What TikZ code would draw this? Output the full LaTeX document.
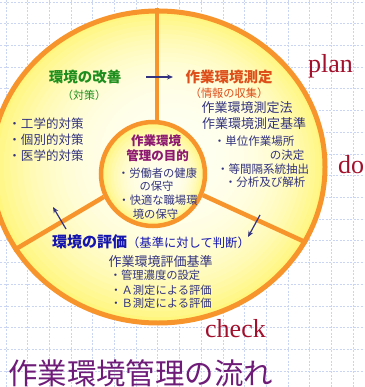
\documentclass[tikz,border=0pt]{standalone}
\usepackage{fontspec}
\setmainfont{Liberation Serif}
\newfontfamily\jp{Noto Sans CJK JP}
\usetikzlibrary{arrows.meta,shapes.geometric}
\definecolor{ringc}{HTML}{F7942C}
\definecolor{gridc}{HTML}{C9D5F2}
\definecolor{greenc}{HTML}{1E8E1E}
\definecolor{redc}{HTML}{DD4E1A}
\definecolor{navyc}{HTML}{33337F}
\definecolor{purc}{HTML}{8C1870}
\definecolor{bluec}{HTML}{1515B0}
\definecolor{crim}{HTML}{A2102C}
\definecolor{titlec}{HTML}{6E1C78}
\definecolor{yin}{HTML}{FFFFF0}
\definecolor{yout}{HTML}{FFF67E}
\begin{document}
\begin{tikzpicture}[x=1pt,y=-1pt,
  gridline/.style={gridc, line width=0.6pt, dash pattern=on 2pt off 1.5pt},
  divider/.style={ringc, line width=4.5pt},
  jt/.style={font=\jp\fontsize{#1}{#1}\selectfont, inner sep=0pt, text=navyc},
  jb/.style={font=\jp\bfseries\fontsize{#1}{#1}\selectfont, inner sep=0pt},
  flow/.style={-{Stealth[length=6pt,width=5pt]}, navyc, line width=1.2pt},
  pdc/.style={font=\fontsize{26}{26}\selectfont, text=crim, anchor=base west, inner sep=0pt}
]
\useasboundingbox (0,0) rectangle (364,387);
\clip (0,0) rectangle (364,387);
\fill[white] (0,0) rectangle (364,387);
\foreach \i in {0,...,16} \draw[gridline] ({5.8+21.7*\i},0) -- ({5.8+21.7*\i},387);
\foreach \j in {0,...,17} \draw[gridline] (0,{2+21.7*\j}) -- (364,{2+21.7*\j});

% wheel background gradient (outer)
\foreach \k in {0,...,29} {
  \pgfmathsetmacro\t{\k/30}
  \pgfmathsetmacro\p{100*(1-(1-\t)^3)}
  \fill[yin!\p!yout] ({158+24*\t},{167-18*\t}) ellipse [x radius={167*(1-\t)*1pt}, y radius={156*(1-\t)*1pt}];
}
\node[ellipse, draw=ringc, line width=5pt, minimum width=334pt, minimum height=312pt,
      inner sep=0pt] (outer) at (158,167) {};
% inner circle gradient
\foreach \k in {0,...,19} {
  \pgfmathsetmacro\t{\k/20}
  \pgfmathsetmacro\p{100*(1-(1-\t)^3)}
  \fill[yin!\p!yout] ({153+12*\t},{174+12*\t}) circle [radius={52*(1-\t)*1pt}];
}
\node[circle, draw=ringc, line width=4.5pt, minimum size=104pt, inner sep=0pt] (inner) at (153,174) {};
\draw[divider] (inner.86) -- (inner.86 |- outer.north);
\draw[divider] (inner.205) -- (outer.210);
\draw[divider] (inner.337) -- (outer.333);

% improvement (top-left)
\node[jb=14.5, text=greenc] (t1) at (85,77) {環境の改善};
\node[jt=11, text=greenc] (t1b) at (84,95) {（対策）};
\node[jt=12.5] (l1) at (46,124) {・工学的対策};
\node[jt=12.5] (l2) at (46,140) {・個別的対策};
\node[jt=12.5] (l3) at (46,156) {・医学的対策};

% measurement (top-right)
\node[jb=14.5, text=redc] (t2) at (229,77) {作業環境測定};
\node[jt=11.2, text=redc] (t2b) at (229,93) {（情報の収集）};
\node[jt=13] (r1) at (247,108) {作業環境測定法};
\node[jt=13] (r2) at (254,124) {作業環境測定基準};
\node[jt=11.5] (r3) at (254,141) {・単位作業場所};
\node[jt=11.5] (r4) at (287,155) {の決定};
\node[jt=11.5] (r5) at (263,169) {・等間隔系統抽出};
\node[jt=11.5] (r6) at (265,182) {・分析及び解析};

% center
\node[jb=12.5, text=purc] (i1) at (156,141) {作業環境};
\node[jb=12.5, text=purc] (i2) at (157.5,156) {管理の目的};
\node[jt=11.3] (i3) at (157.5,173) {・労働者の健康};
\node[jt=11.3] (i4) at (156.5,186) {の保守};
\node[jt=11.3] (i5) at (158,200) {・快適な職場環};
\node[jt=11.3] (i6) at (155.5,214) {境の保守};

% evaluation (bottom)
\node[inner sep=0pt, text=bluec] (e1) at (151,242)
  {{\jp\bfseries\fontsize{15}{15}\selectfont 環境の評価}{\jp\fontsize{12.3}{12.3}\selectfont （基準に対して判断）}};
\node[jt=13] (b1) at (160.5,262) {作業環境評価基準};
\node[jt=11.3] (b2) at (155,275) {・管理濃度の設定};
\node[jt=11.3] (b3) at (161,290) {・Ａ測定による評価};
\node[jt=11.3] (b4) at (161,303) {・Ｂ測定による評価};

% arrows
\coordinate (a1s) at (146,77);  \coordinate (a1e) at (173,77);
\coordinate (a2s) at (66,229);  \coordinate (a2e) at (53,207);
\coordinate (a3s) at (260,215); \coordinate (a3e) at (248,237);
\draw[flow] (a1s) -- (a1e);
\draw[flow] (a2s) -- (a2e);
\draw[flow] (a3s) -- (a3e);

% PDCA labels
\node[pdc] (plan) at (308,73) {plan};
\node[pdc] (do) at (338,173) {do};
\node[pdc] (check) at (205,337) {check};

% title
\node[jt=29.4, text=titlec] (title) at (140.5,373.5) {作業環境管理の流れ};
\end{tikzpicture}
\end{document}
